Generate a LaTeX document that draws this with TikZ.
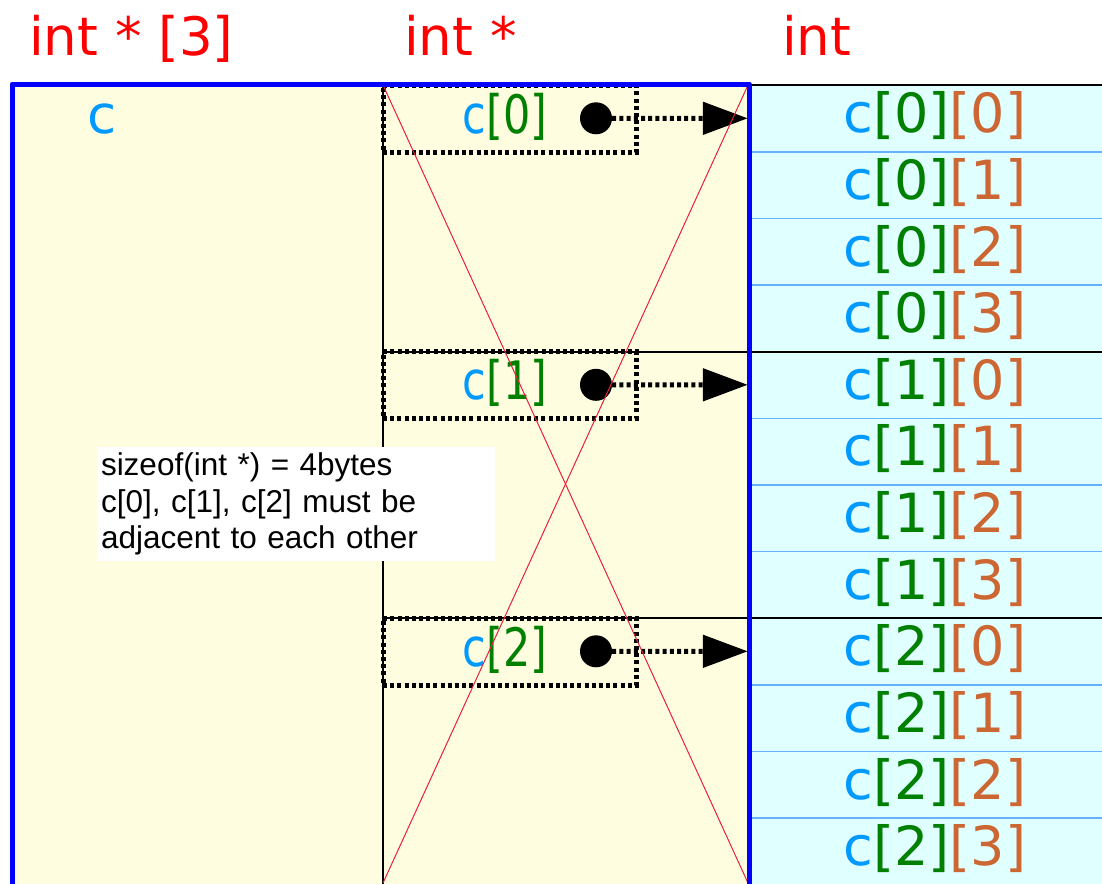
\documentclass[tikz,border=0pt]{standalone}
\usepackage{fontspec}
\setmainfont{DejaVu Sans}
\newfontfamily\notefont{Liberation Sans}
\usetikzlibrary{arrows.meta}

\definecolor{idxblue}{HTML}{0099FF}
\definecolor{idxgreen}{HTML}{008000}
\definecolor{idxorange}{HTML}{CC6633}
\definecolor{memyellow}{HTML}{FFFDE0}
\definecolor{memcyan}{HTML}{E0FFFF}
\definecolor{sepblue}{HTML}{66B2FF}
\definecolor{crossred}{HTML}{E8203C}
\definecolor{framblue}{HTML}{0000FF}

\begin{document}
\begin{tikzpicture}[x=1pt,y=-1pt,
  bigtext/.style={font=\fontsize{53}{60}\selectfont, inner sep=0pt},
  typelabel/.style={bigtext, text=red, anchor=base west},
  memcell/.style={font=\fontsize{54}{60}\selectfont, inner sep=0pt,
    minimum width=354pt, minimum height=66.625pt,
    fill=memcyan, text height=40pt, text depth=11pt},
  ptrbox/.style={draw=black, line width=5pt, dash pattern=on 4pt off 3.2pt,
    minimum width=253pt, minimum height=67pt, inner sep=0pt},
  ptrlabel/.style={bigtext, anchor=base},
  ptrdot/.style={circle, fill=black, minimum size=32pt, inner sep=0pt},
  ptrarrow/.style={line width=5pt, dash pattern=on 4pt off 3.2pt,
    -{Triangle[length=45pt,width=32pt]}},
  cellsep/.style={sepblue, line width=1.5pt},
  grpline/.style={black, line width=2pt},
  crossline/.style={crossred, line width=1pt},
  notebox/.style={fill=white, text width=390pt, inner xsep=4pt, inner ysep=0pt,
    minimum height=114pt, align=left,
    font=\notefont\fontsize{31.5}{36.8}\selectfont}
]
\useasboundingbox (0,0) rectangle (1102,883);

% type headings
\node[typelabel] (t3) at (29,56) {int * [3]};
\node[typelabel] (t2) at (404,56) {int *};
\node[typelabel] (t1) at (782,56) {int};

% the array of pointers c
\fill[memyellow] (12,84) rectangle (749,893);

% the int rows c[i][j]
\foreach \i in {0,1,2} {
  \foreach \j in {0,1,2,3} {
    \node[memcell] (c\i\j) at (925,{85+66.625*(4*\i+\j+0.5)})
      {\hspace*{20pt}\textcolor{idxblue}{c}\textcolor{idxgreen}{[\i]}\textcolor{idxorange}{[\j]}};
  }
}
\foreach \i in {0,1,2} {
  \foreach \j in {0,1,2} {
    \draw[cellsep] (c\i\j.south west) -- (c\i\j.south east);
  }
}

% column separator and group boundaries
\coordinate (colx) at (383,84);
\draw[grpline] (colx) -- (383,893);
\draw[grpline] (c00.north west) -- (c00.north east);
\draw[grpline] (c03.south -| colx) -- (c03.south east);
\draw[grpline] (c13.south -| colx) -- (c13.south east);

% note
\node[notebox] (note) at (296,504)
  {sizeof(int *) = 4bytes\\c[0], c[1], c[2] must be\\adjacent to each other};

% variable name
\node[ptrlabel, text=idxblue] (cvar) at (102,133) {c};

% pointer elements c[0], c[1], c[2]
\foreach \i in {0,1,2} {
  \node[ptrbox] (p\i) at (509.5,{85+266.5*\i+33.5}) {};
  \node[ptrlabel] (l\i) at (505,{133+266.5*\i})
    {\scalebox{0.81}[1]{\textcolor{idxblue}{c}\textcolor{idxgreen}{[\i]}}};
  \node[ptrdot] (d\i) at (596,{85+266.5*\i+33.3}) {};
  \draw[ptrarrow] (d\i) -- (c\i0.west);
}

% crossing lines over the pointer column
\draw[crossline] (383,85) -- (748,883);
\draw[crossline] (748,85) -- (383,883);

% outer frame of c
\draw[framblue, line width=5pt, line join=round] (12,893) -- (12,84) -- (749,84) -- (749,893);
\end{tikzpicture}
\end{document}
